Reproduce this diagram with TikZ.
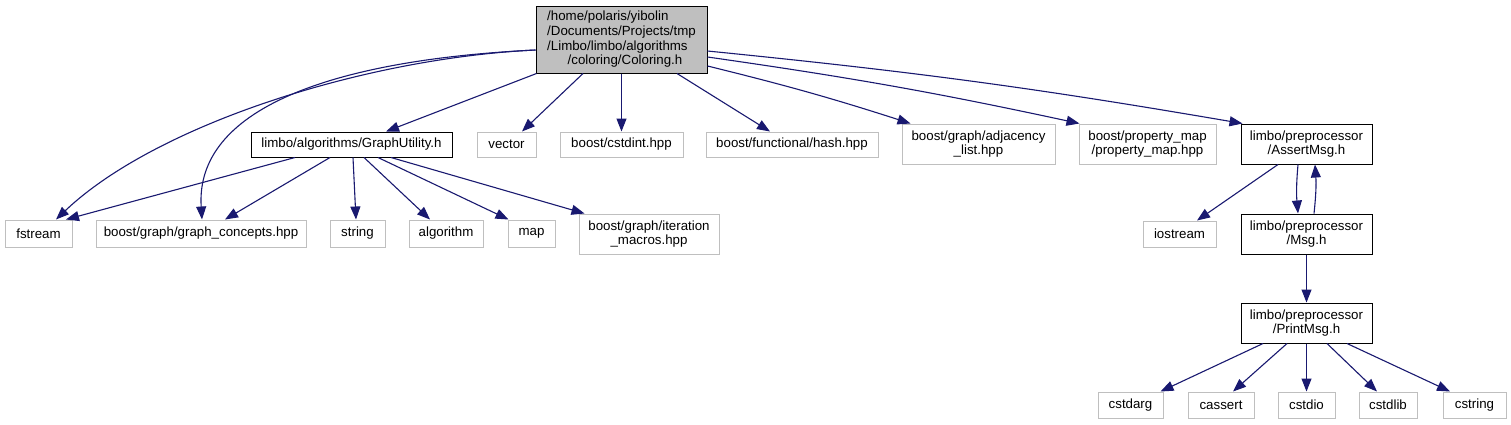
\documentclass[tikz,border=0pt]{standalone}
\usepackage{fontspec}
\setmainfont{Liberation Sans}
\usetikzlibrary{arrows.meta}
\definecolor{edgeblue}{HTML}{191970}
\definecolor{boxgray}{HTML}{BFBFBF}
\begin{document}
\begin{tikzpicture}[x=1pt,y=-1pt,
  base/.style={draw, inner sep=0pt, font=\fontsize{13.3}{14.7}\selectfont, align=center, line width=1pt},
  sys/.style={base, draw=boxgray},
  hdr/.style={base, draw=black},
  cur/.style={base, draw=black, fill=boxgray},
  dep/.style={draw=edgeblue, line width=1.1pt, -{Triangle[length=13pt,width=10pt]}}
]
\useasboundingbox[fill=white] (0,0) rectangle (1511,424);

% nodes
\node[cur, minimum width=171pt, minimum height=67pt, align=left] (col) at (621.5,39.5)
  {/home/polaris/yibolin\\/Documents/Projects/tmp\\/Limbo/limbo/algorithms\\\hspace*{20.5pt}/coloring/Coloring.h};
\node[hdr, minimum width=201pt, minimum height=25pt] (gu) at (351.5,144.5) {limbo/algorithms/GraphUtility.h};
\node[sys, minimum width=59pt, minimum height=25pt] (vec) at (506.5,144.5) {vector};
\node[sys, minimum width=123pt, minimum height=25pt] (cst) at (621.5,144.5) {boost/cstdint.hpp};
\node[sys, minimum width=172pt, minimum height=25pt] (hash) at (792,144.5) {boost/functional/hash.hpp};
\node[sys, minimum width=153pt, minimum height=40pt] (adj) at (978.5,144) {boost/graph/adjacency\\\_list.hpp};
\node[sys, minimum width=137pt, minimum height=40pt] (pm) at (1147.5,144) {boost/property\_map\\/property\_map.hpp};
\node[hdr, minimum width=131pt, minimum height=40pt] (am) at (1306.5,144) {limbo/preprocessor\\/AssertMsg.h};

\node[sys, minimum width=67pt, minimum height=27pt] (fs) at (38.5,233.5) {fstream};
\node[sys, minimum width=210pt, minimum height=27pt] (gc) at (201,233.5) {boost/graph/graph\_concepts.hpp};
\node[sys, minimum width=55pt, minimum height=27pt] (str) at (357.5,233.5) {string};
\node[sys, minimum width=74pt, minimum height=27pt] (alg) at (446,233.5) {algorithm};
\node[sys, minimum width=47pt, minimum height=27pt] (map) at (531.5,233.5) {map};
\node[sys, minimum width=140pt, minimum height=40pt] (it) at (649,234) {boost/graph/iteration\\\_macros.hpp};
\node[sys, minimum width=73pt, minimum height=26pt] (ios) at (1179.5,234) {iostream};
\node[hdr, minimum width=131pt, minimum height=40pt] (msg) at (1306.5,234) {limbo/preprocessor\\/Msg.h};
\node[hdr, minimum width=131pt, minimum height=40pt] (pmsg) at (1306.5,323) {limbo/preprocessor\\/PrintMsg.h};

\node[sys, minimum width=65pt, minimum height=26pt] (carg) at (1130.5,405) {cstdarg};
\node[sys, minimum width=66pt, minimum height=26pt] (cass) at (1221,405) {cassert};
\node[sys, minimum width=57pt, minimum height=26pt] (cio) at (1306.5,405) {cstdio};
\node[sys, minimum width=58pt, minimum height=26pt] (clib) at (1388,405) {cstdlib};
\node[sys, minimum width=63pt, minimum height=26pt] (cstr) at (1474.5,405) {cstring};

% edges from Coloring.h
\draw[dep] ([yshift=-10.5pt]col.west) .. controls +(-170,8) and +(100,-95) .. ([xshift=17.5pt]fs.north);
\draw[dep] ([yshift=-10.5pt]col.west) .. controls +(-206,10) and +(-7,-110) .. ([xshift=1pt]gc.north);
\draw[dep] ([xshift=1pt]col.south west) -- ([xshift=34.5pt]gu.north);
\draw[dep] ([xshift=-38.5pt]col.south) -- ([xshift=15.5pt]vec.north);
\draw[dep] (col.south) -- (cst.north);
\draw[dep] ([xshift=55.5pt]col.south) -- ([xshift=-22pt]hash.north);
\draw[dep] ([yshift=-26.5pt]col.east) to[bend left=2] ([xshift=9pt]adj.north west);
\draw[dep] ([yshift=-17.5pt]col.east) to[bend left=2] ([xshift=1pt]pm.north west);
\draw[dep] ([yshift=-11.5pt]col.east) to[bend left=2] ([xshift=2pt]am.north west);

% edges from GraphUtility.h
\draw[dep] ([xshift=-56.5pt]gu.south) -- ([xshift=27.5pt]fs.north);
\draw[dep] ([xshift=-21.5pt]gu.south) -- ([xshift=24pt]gc.north);
\draw[dep] ([xshift=1.5pt]gu.south) -- ([xshift=-1.5pt]str.north);
\draw[dep] ([xshift=12.5pt]gu.south) -- ([xshift=-16pt]alg.north);
\draw[dep] ([xshift=26.5pt]gu.south) -- ([xshift=1pt]map.north west);
\draw[dep] ([xshift=39.5pt]gu.south) -- ([xshift=6pt]it.north west);

% AssertMsg / Msg
\draw[dep] ([xshift=-28.5pt]am.south) -- ([xshift=17.5pt]ios.north);
\draw[dep] ([xshift=-8.5pt]am.south) to[bend right=5] ([xshift=-8.5pt]msg.north);
\draw[dep] ([xshift=7.5pt]msg.north) to[bend right=5] ([xshift=8.5pt]am.south);
\draw[dep] (msg.south) -- (pmsg.north);

% PrintMsg
\draw[dep] ([xshift=-43.5pt]pmsg.south) -- ([xshift=-3pt]carg.north east);
\draw[dep] ([xshift=-19.5pt]pmsg.south) -- ([xshift=12pt]cass.north);
\draw[dep] (pmsg.south) -- (cio.north);
\draw[dep] ([xshift=20.5pt]pmsg.south) -- ([xshift=-11pt]clib.north);
\draw[dep] ([xshift=40.5pt]pmsg.south) -- ([xshift=-24.5pt]cstr.north);
\end{tikzpicture}
\end{document}
